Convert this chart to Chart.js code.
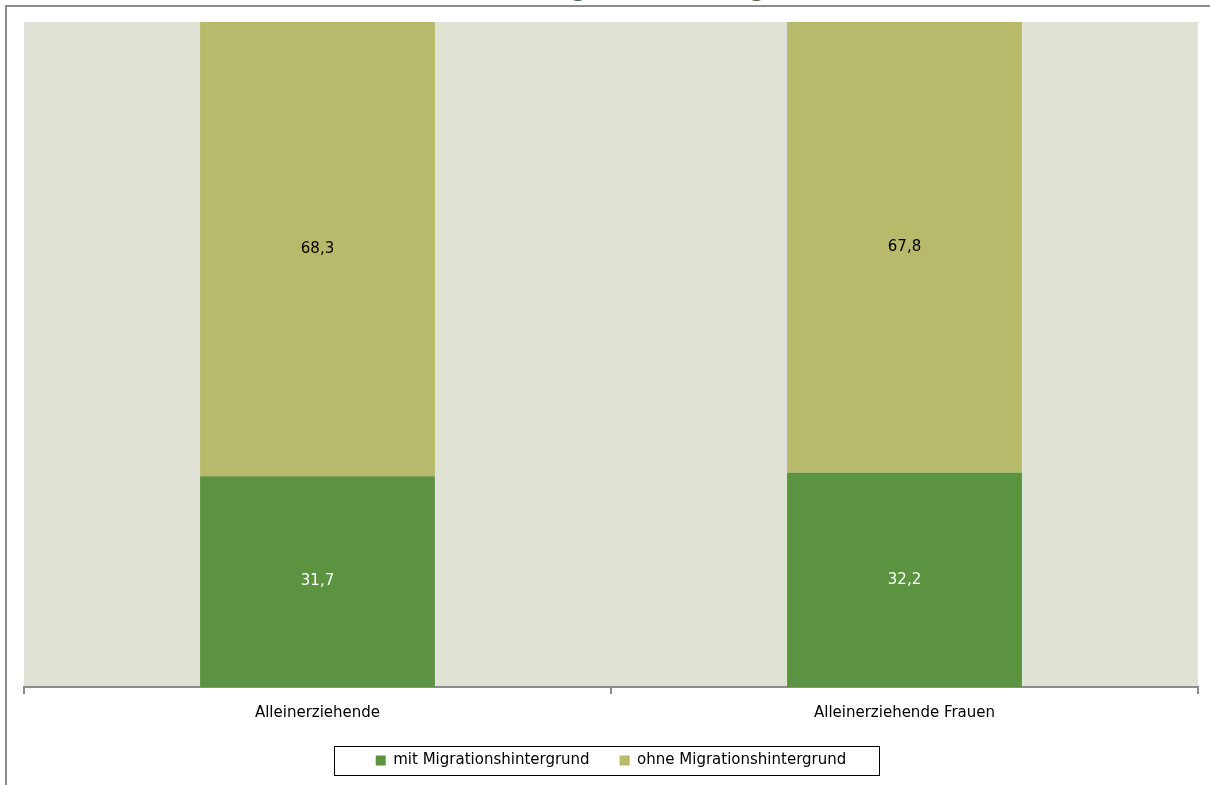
<!DOCTYPE html>
<html>
<head>
<meta charset="utf-8">
<script src="https://cdn.jsdelivr.net/npm/chart.js@4.4.0/dist/chart.umd.min.js"></script>
<style>
  html, body { margin: 0; padding: 0; background: #fff; overflow: hidden; }
  #wrap { position: relative; width: 1210px; height: 785px; overflow: hidden; }
  #title {
    position: absolute; left: 0; width: 1240px; top: -23px; text-align: center;
    font: bold 22px "DejaVu Sans", sans-serif; color: #56684a; white-space: nowrap;
  }
  canvas { position: absolute; left: 0; top: 0; }
</style>
</head>
<body>
<div id="wrap">
  <div id="title">Alleinerziehende nach Migrationshintergrund, 2011 (in %)</div>
  <canvas id="canvas" width="1210" height="785"></canvas>
</div>
<script>
var categories = ['Alleinerziehende', 'Alleinerziehende Frauen'];
var mitMigration = [31.7, 32.2];
var ohneMigration = [68.3, 67.8];
var seriesNames = ['mit Migrationshintergrund', 'ohne Migrationshintergrund'];

var FONT = '"DejaVu Sans", sans-serif';

// frame, plot background, value labels and legend box
var decor = {
  id: 'decor',
  beforeDraw: function(chart) {
    var ctx = chart.ctx, a = chart.chartArea;
    ctx.save();
    ctx.fillStyle = '#e0e2d5';
    ctx.fillRect(a.left, a.top, a.right - a.left, a.bottom - a.top);
    ctx.strokeStyle = '#8c8c8c';
    ctx.lineWidth = 2;
    ctx.beginPath();
    ctx.moveTo(6, 785);
    ctx.lineTo(6, 6);
    ctx.lineTo(1210, 6);
    ctx.stroke();
    ctx.restore();
  },
  afterDatasetsDraw: function(chart) {
    var ctx = chart.ctx;
    ctx.save();
    ctx.font = '15px ' + FONT;
    ctx.textAlign = 'center';
    ctx.textBaseline = 'middle';
    chart.data.datasets.forEach(function(ds, i) {
      chart.getDatasetMeta(i).data.forEach(function(bar, j) {
        var p = bar.getProps(['x', 'y', 'base'], true);
        ctx.fillStyle = i === 0 ? '#ffffff' : '#000000';
        ctx.fillText(String(ds.data[j]).replace('.', ','), p.x, (p.y + p.base) / 2);
      });
    });
    ctx.restore();
  },
  afterDraw: function(chart) {
    var lg = chart.legend;
    if (!lg || !lg.legendHitBoxes || !lg.legendHitBoxes.length) return;
    var hb = lg.legendHitBoxes;
    var x0 = hb[0].left - 42, x1 = hb[hb.length - 1].left + hb[hb.length - 1].width + 32;
    var ctx = chart.ctx;
    ctx.save();
    ctx.strokeStyle = '#000';
    ctx.lineWidth = 1;
    ctx.strokeRect(Math.round(x0) + 0.5, 746.5, Math.round(x1 - x0), 29);
    ctx.restore();
  }
};

new Chart(document.getElementById('canvas').getContext('2d'), {
  type: 'bar',
  data: {
    labels: categories,
    datasets: [
      { label: seriesNames[0], data: mitMigration, backgroundColor: '#5b9340', categoryPercentage: 0.4, barPercentage: 1 },
      { label: seriesNames[1], data: ohneMigration, backgroundColor: '#b6ba6a', categoryPercentage: 0.4, barPercentage: 1 }
    ]
  },
  options: {
    responsive: false,
    animation: false,
    layout: { padding: { left: 24, right: 12, top: 22, bottom: 7 } },
    plugins: {
      title: { display: false },
      tooltip: { enabled: false },
      legend: {
        position: 'bottom',
        labels: {
          font: { family: FONT, size: 15 },
          color: '#000',
          boxWidth: 10,
          boxHeight: 10,
          padding: 30,
          useBorderRadius: false
        }
      }
    },
    scales: {
      x: {
        stacked: true,
        afterFit: function(scale) { scale.height = 36; },
        grid: { display: true, drawOnChartArea: false, drawTicks: true, tickLength: 7, lineWidth: 2, color: '#8c8c8c', offset: true },
        border: { display: true, color: '#8c8c8c', width: 2 },
        ticks: { font: { family: FONT, size: 15 }, color: '#000', padding: 10 }
      },
      y: {
        stacked: true,
        display: false,
        min: 0,
        max: 100
      }
    }
  },
  plugins: [decor]
});
</script>
</body>
</html>
